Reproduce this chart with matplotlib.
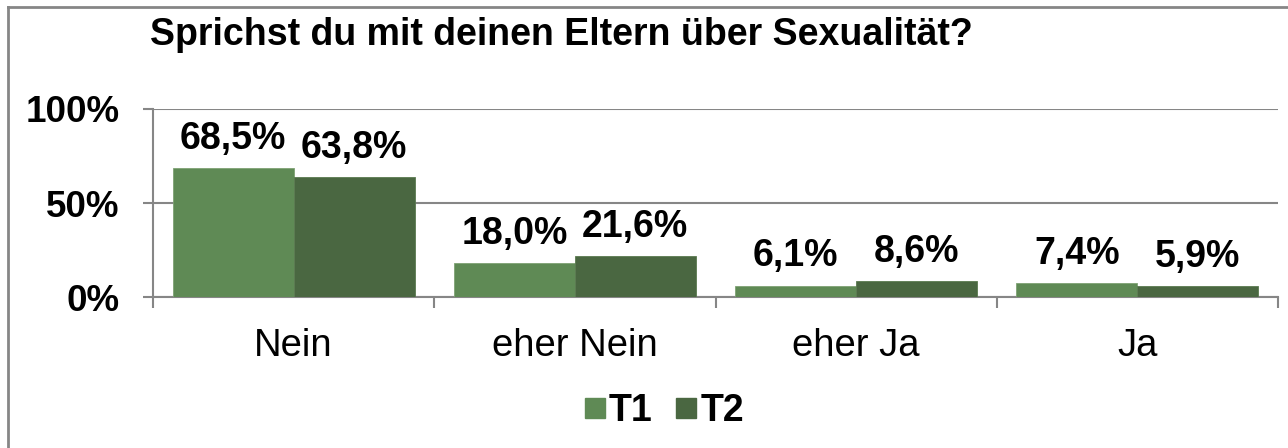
import matplotlib
matplotlib.use("Agg")
import matplotlib.pyplot as plt
from matplotlib.lines import Line2D
import numpy as np

plt.rcParams['font.family'] = ['Liberation Sans', 'DejaVu Sans']

title = "Sprichst du mit deinen Eltern über Sexualität?"
categories = ["Nein", "eher Nein", "eher Ja", "Ja"]
series_names = ["T1", "T2"]
t1 = [68.5, 18.0, 6.1, 7.4]
t2 = [63.8, 21.6, 8.6, 5.9]
labels_t1 = ["68,5%", "18,0%", "6,1%", "7,4%"]
labels_t2 = ["63,8%", "21,6%", "8,6%", "5,9%"]
yticks = [0, 50, 100]
yticklabels = ["0%", "50%", "100%"]

c1 = "#5f8a55"
c2 = "#4a6741"
gray = "#868686"

W, H = 1288, 448
fig = plt.figure(figsize=(W/100, H/100), dpi=100)
ax = fig.add_axes([153/W, 1-297/H, (1278-153)/W, (297-109)/H])

x = np.arange(len(categories))
bw = 0.43
ax.bar(x - bw/2, t1, width=bw, color=c1, edgecolor="#7fa274", linewidth=0.6, label=series_names[0], zorder=3)
ax.bar(x + bw/2, t2, width=bw, color=c2, edgecolor="#5a7a50", linewidth=0.6, label=series_names[1], zorder=3)

for i in range(len(categories)):
    ax.annotate(labels_t1[i], (x[i] - bw/2, t1[i]), xytext=(0, 8), textcoords='offset points',
                ha='center', va='bottom', fontsize=27, fontweight='bold', zorder=4)
    ax.annotate(labels_t2[i], (x[i] + bw/2, t2[i]), xytext=(0, 8), textcoords='offset points',
                ha='center', va='bottom', fontsize=27, fontweight='bold', zorder=4)

ax.set_xlim(-0.5, len(categories) - 0.5)
ax.set_ylim(0, 100)
ax.set_yticks(yticks)
ax.set_yticklabels(yticklabels, fontsize=26.5, fontweight='bold')
ax.yaxis.grid(True, color=gray, linewidth=1.5, zorder=0)
ax.tick_params(axis='y', length=7, width=1.5, color=gray, pad=17)

ax.set_xticks(x)
ax.set_xticklabels(categories, fontsize=27.5)
ax.set_xticks(np.arange(len(categories) + 1) - 0.5, minor=True)
ax.tick_params(axis='x', which='major', length=0, pad=22)
ax.tick_params(axis='x', which='minor', length=8, width=1.5, color=gray)

for s in ['top', 'right']:
    ax.spines[s].set_visible(False)
ax.spines['left'].set_color(gray)
ax.spines['left'].set_linewidth(1.5)
ax.spines['bottom'].set_color(gray)
ax.spines['bottom'].set_linewidth(1.5)

fig.text(150/W, 1-35/H, title, fontsize=27, fontweight='bold', ha='left', va='center')

handles = [Line2D([], [], marker='s', linestyle='', markersize=14.5, color=c1),
           Line2D([], [], marker='s', linestyle='', markersize=14.5, color=c2)]
leg = fig.legend(handles, series_names, loc='center', bbox_to_anchor=(660/W, 1-411/H),
                 ncol=2, frameon=False, prop={'weight': 'bold', 'size': 27},
                 handletextpad=-0.12, columnspacing=0.4, handlelength=1.0)

# outer chart border (top and left visible)
fig.add_artist(Line2D([8/W, 1], [1-7/H, 1-7/H], color=gray, linewidth=2, transform=fig.transFigure))
fig.add_artist(Line2D([8/W, 8/W], [0, 1-7/H], color=gray, linewidth=2, transform=fig.transFigure))

fig.savefig("out.png", dpi=100, facecolor='white')
